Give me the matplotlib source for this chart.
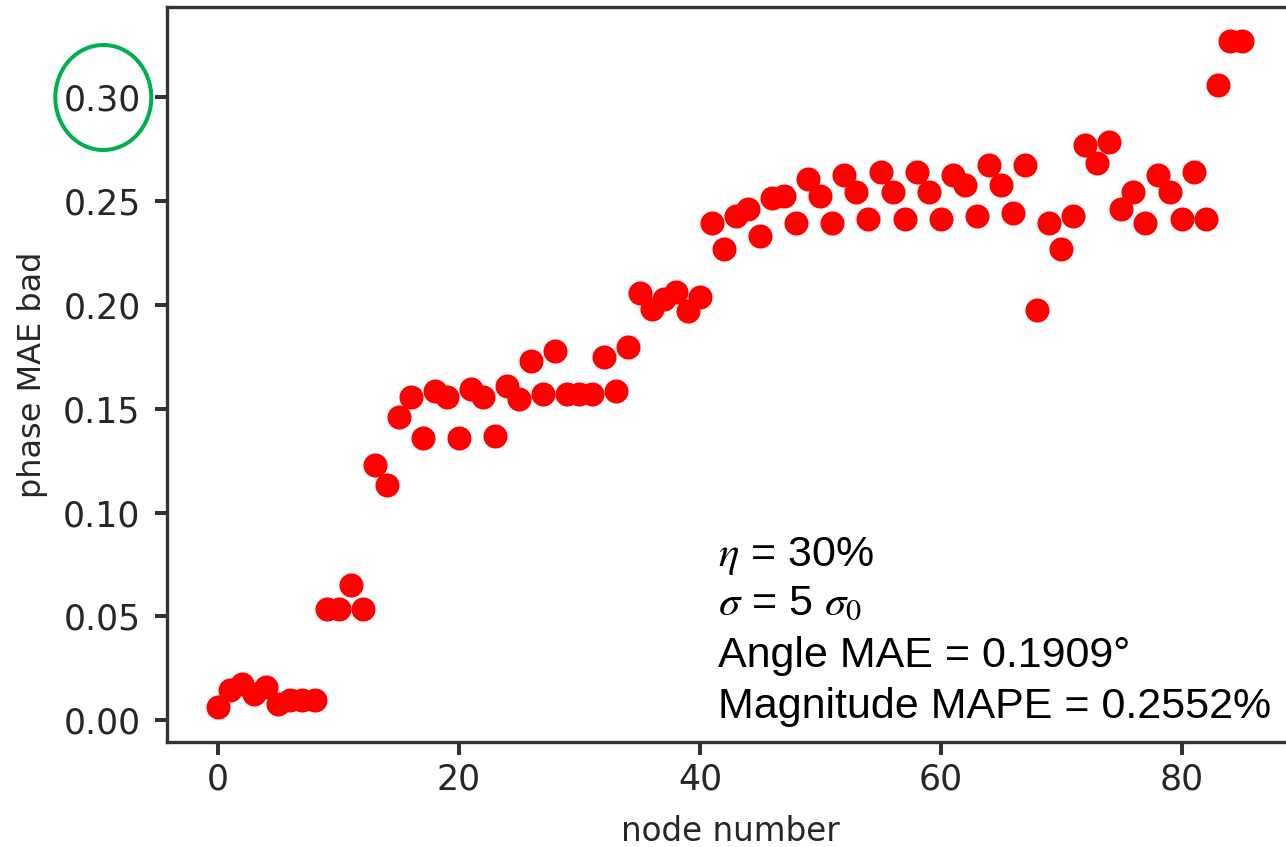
import matplotlib
matplotlib.use('Agg')
import matplotlib.pyplot as plt
from matplotlib.patches import Ellipse

# phase MAE for each node
nodes = list(range(86))
mae = [0.0064, 0.0144, 0.0172, 0.0128, 0.0160, 0.0080, 0.0096, 0.0096, 0.0096, 0.0534,
       0.0534, 0.0649, 0.0534, 0.1231, 0.1133, 0.1459, 0.1555, 0.1358, 0.1587, 0.1555,
       0.1358, 0.1595, 0.1555, 0.1370, 0.1610, 0.1547, 0.1731, 0.1570, 0.1779, 0.1570,
       0.1570, 0.1570, 0.1747, 0.1587, 0.1795, 0.2056, 0.1979, 0.2027, 0.2060, 0.1970,
       0.2040, 0.2396, 0.2268, 0.2428, 0.2460, 0.2332, 0.2516, 0.2524, 0.2396, 0.2608,
       0.2524, 0.2396, 0.2624, 0.2543, 0.2412, 0.2640, 0.2543, 0.2412, 0.2640, 0.2543,
       0.2412, 0.2624, 0.2575, 0.2428, 0.2672, 0.2575, 0.2444, 0.2672, 0.1976, 0.2396,
       0.2268, 0.2428, 0.2769, 0.2685, 0.2784, 0.2460, 0.2543, 0.2396, 0.2624, 0.2543,
       0.2412, 0.2640, 0.2412, 0.3061, 0.3273, 0.3273]

xticks = [0, 20, 40, 60, 80]
yticks = [0.00, 0.05, 0.10, 0.15, 0.20, 0.25, 0.30]
info = [r'$\eta$ = 30%', r'$\sigma$ = 5 $\sigma_0$', 'Angle MAE = 0.1909°', 'Magnitude MAPE = 0.2552%']

plt.rcParams['mathtext.fontset'] = 'stix'
txt = '#262626'

W, H = 1286, 847
fig = plt.figure(figsize=(W / 100, H / 100), dpi=100)
# axes run a bit past the right edge, as in the cropped original
ax = fig.add_axes([167 / W, 105 / H, 1126 / W, 734.5 / H])

ax.scatter(nodes, mae, s=300, c='#ff0000', linewidths=0, zorder=3)

ax.set_xlim(-4.25, 89.25)
ax.set_ylim(-0.0105, 0.3432)
ax.set_xticks(xticks)
ax.set_yticks(yticks)
ax.set_yticklabels(['%.2f' % v for v in yticks])

for s in ax.spines.values():
    s.set_linewidth(2.4)
    s.set_color('#333333')
ax.tick_params(axis='both', length=9, width=2.9, color='#333333', labelsize=25, labelcolor=txt)
ax.tick_params(axis='x', pad=6)
ax.tick_params(axis='y', pad=10)

ax.set_xlabel('node number', fontsize=23.5, color=txt)
ax.set_ylabel('phase MAE bad', fontsize=23, color=txt)
ax.xaxis.set_label_coords(0.5, -0.100)
ax.yaxis.set_label_coords(-0.106, 0.5)

# info text block
baselines = [566, 615, 667, 718]
for line, yb in zip(info, baselines):
    fig.text(718 / W, 1 - yb / H, line, fontsize=31, family='Liberation Sans',
             color='black', va='baseline', ha='left')

# green circle round the 0.30 label
fig.add_artist(Ellipse((103.3 / W, 1 - 97.5 / H), 96 / W, 105 / H, transform=fig.transFigure,
                       fill=False, edgecolor='#00B050', linewidth=2.9))

fig.savefig('out.png', dpi=100)
